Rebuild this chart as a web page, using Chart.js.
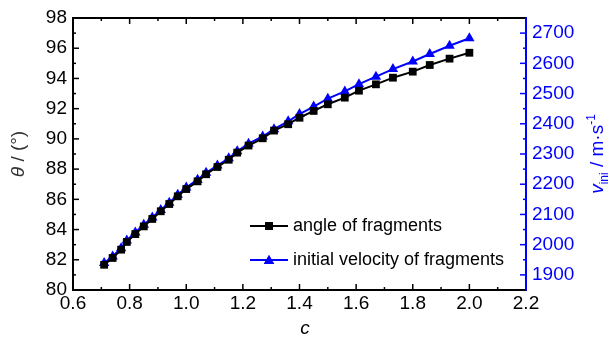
<!DOCTYPE html>
<html>
<head>
<meta charset="utf-8">
<script src="https://cdn.jsdelivr.net/npm/chart.js@4.4.1/dist/chart.umd.min.js"></script>
<style>
html,body{margin:0;padding:0;background:#fff;}
#wrap{width:609px;height:337px;position:relative;}
</style>
</head>
<body>
<div id="wrap"><canvas id="c" width="609" height="337"></canvas></div>
<script>
// ---- data ----
const cValues = [0.71, 0.74, 0.77, 0.79, 0.82, 0.85, 0.88, 0.91, 0.94, 0.97, 1.00, 1.04, 1.07, 1.11, 1.15, 1.18, 1.22, 1.27, 1.31, 1.36, 1.40, 1.45, 1.50, 1.56, 1.61, 1.67, 1.73, 1.80, 1.86, 1.93, 2.00];
const angleValues = [81.67, 82.12, 82.67, 83.18, 83.70, 84.21, 84.70, 85.21, 85.69, 86.20, 86.68, 87.19, 87.66, 88.14, 88.62, 89.09, 89.56, 90.04, 90.55, 90.97, 91.40, 91.85, 92.29, 92.73, 93.19, 93.61, 94.05, 94.45, 94.89, 95.31, 95.70];
const velocityValues = [1939, 1961, 1988, 2014, 2040, 2066, 2090, 2115, 2139, 2165, 2189, 2215, 2238, 2262, 2286, 2309, 2334, 2358, 2382, 2408, 2432, 2457, 2483, 2507, 2531, 2556, 2581, 2606, 2631, 2658, 2683];
const xTicks = [0.6, 0.8, 1.0, 1.2, 1.4, 1.6, 1.8, 2.0, 2.2];
const leftTicks = [80, 82, 84, 86, 88, 90, 92, 94, 96, 98];
const rightTicks = [1900, 2000, 2100, 2200, 2300, 2400, 2500, 2600, 2700];
const seriesLabels = ['angle of fragments', 'initial velocity of fragments'];

const BLUE = '#0000ff';
const FONT = '"Liberation Sans", Arial, sans-serif';
const TICK_FONT = { family: FONT, size: 19 };

function minors(arr) {
  const out = [];
  for (let i = 0; i < arr.length - 1; i++) out.push((arr[i] + arr[i + 1]) / 2);
  return out;
}

const framePlugin = {
  id: 'frame',
  afterDraw(chart) {
    const ctx = chart.ctx;
    const a = chart.chartArea;
    const sx = chart.scales.x, sy = chart.scales.y, sy2 = chart.scales.y2;
    ctx.save();
    ctx.lineCap = 'butt';
    ctx.lineWidth = 1.5;
    ctx.strokeStyle = '#000';
    const tk = (x1, y1, x2, y2) => { ctx.beginPath(); ctx.moveTo(x1, y1); ctx.lineTo(x2, y2); ctx.stroke(); };
    xTicks.forEach(v => { const p = sx.getPixelForValue(v); tk(p, a.bottom, p, a.bottom - 6); tk(p, a.top, p, a.top + 6); });
    minors(xTicks).forEach(v => { const p = sx.getPixelForValue(v); tk(p, a.bottom, p, a.bottom - 3); tk(p, a.top, p, a.top + 3); });
    leftTicks.forEach(v => { const p = sy.getPixelForValue(v); tk(a.left, p, a.left + 6, p); });
    minors(leftTicks).forEach(v => { const p = sy.getPixelForValue(v); tk(a.left, p, a.left + 3, p); });
    ctx.strokeStyle = BLUE;
    rightTicks.forEach(v => { const p = sy2.getPixelForValue(v); tk(a.right, p, a.right - 6, p); });
    minors(rightTicks).forEach(v => { const p = sy2.getPixelForValue(v); tk(a.right, p, a.right - 3, p); });
    // frame
    ctx.lineWidth = 2;
    ctx.strokeStyle = '#000';
    ctx.beginPath();
    ctx.moveTo(a.right, a.top); ctx.lineTo(a.left, a.top); ctx.lineTo(a.left, a.bottom); ctx.lineTo(a.right, a.bottom);
    ctx.stroke();
    ctx.strokeStyle = BLUE;
    ctx.beginPath(); ctx.moveTo(a.right, a.top - 1); ctx.lineTo(a.right, a.bottom + 1); ctx.stroke();

    ctx.textBaseline = 'alphabetic';
    // left title
    ctx.save();
    ctx.translate(24, (a.top + a.bottom) / 2);
    ctx.rotate(-Math.PI / 2);
    ctx.fillStyle = '#333';
    const p1 = 'θ', p2 = ' / (°)';
    ctx.font = 'italic 19px ' + FONT;
    const w1 = ctx.measureText(p1).width;
    ctx.font = '19px ' + FONT;
    const w2 = ctx.measureText(p2).width;
    let x0 = -(w1 + w2) / 2;
    ctx.font = 'italic 19px ' + FONT; ctx.fillText(p1, x0, 0);
    ctx.font = '19px ' + FONT; ctx.fillText(p2, x0 + w1, 0);
    ctx.restore();

    // right title
    ctx.save();
    ctx.translate(603, (a.top + a.bottom) / 2);
    ctx.rotate(-Math.PI / 2);
    ctx.fillStyle = BLUE;
    const parts = [
      { t: 'v', f: 'italic 19px ' + FONT, dy: 0 },
      { t: 'ini', f: '12px ' + FONT, dy: 5 },
      { t: ' / m·s', f: '19px ' + FONT, dy: 0 },
      { t: '-1', f: '12px ' + FONT, dy: -8 }
    ];
    let tw = 0;
    parts.forEach(p => { ctx.font = p.f; p.w = ctx.measureText(p.t).width; tw += p.w; });
    let cx = -tw / 2;
    parts.forEach(p => { ctx.font = p.f; ctx.fillText(p.t, cx, p.dy); cx += p.w; });
    ctx.restore();

    // bottom title
    ctx.fillStyle = '#000';
    ctx.font = 'italic 19px ' + FONT;
    ctx.textAlign = 'center';
    ctx.fillText('c', 305, 334);
    ctx.textAlign = 'left';

    // legend
    const rows = [
      { y: 226, color: '#000', style: 'rect', r: 5.5, label: seriesLabels[0] },
      { y: 260, color: BLUE, style: 'triangle', r: 6, label: seriesLabels[1] }
    ];
    rows.forEach(rw => {
      ctx.strokeStyle = rw.color; ctx.lineWidth = 2;
      tk(250, rw.y, 288, rw.y);
      ctx.fillStyle = rw.color;
      Chart.helpers.drawPoint(ctx, { pointStyle: rw.style, radius: rw.r, borderWidth: 0 }, 269, rw.y + (rw.style === 'triangle' ? 1 : 0));
      ctx.fill();
      ctx.fillStyle = '#000';
      ctx.font = '18px ' + FONT;
      ctx.textBaseline = 'middle';
      ctx.fillText(rw.label, 293, rw.y);
    });
    ctx.restore();
  }
};

new Chart(document.getElementById('c'), {
  type: 'line',
  data: {
    datasets: [
      {
        label: seriesLabels[0],
        data: cValues.map((c, i) => ({ x: c, y: angleValues[i] })),
        yAxisID: 'y',
        borderColor: '#000',
        backgroundColor: '#000',
        borderWidth: 2,
        pointStyle: 'rect',
        pointRadius: 5.5,
        pointBorderWidth: 0,
        tension: 0
      },
      {
        label: seriesLabels[1],
        data: cValues.map((c, i) => ({ x: c, y: velocityValues[i] })),
        yAxisID: 'y2',
        borderColor: BLUE,
        backgroundColor: BLUE,
        borderWidth: 2,
        pointStyle: 'triangle',
        pointRadius: 6,
        pointBorderWidth: 0,
        tension: 0
      }
    ]
  },
  options: {
    responsive: false,
    animation: false,
    devicePixelRatio: 1,
    layout: { padding: { top: 18, left: 0, right: 0, bottom: 0 } },
    plugins: { legend: { display: false }, tooltip: { enabled: false } },
    scales: {
      x: {
        type: 'linear', min: 0.6, max: 2.2,
        afterBuildTicks: s => { s.ticks = xTicks.map(v => ({ value: v })); },
        afterFit: s => { s.height = 47; },
        grid: { display: false, drawTicks: false },
        border: { display: false },
        ticks: { autoSkip: false, maxRotation: 0, padding: 2, color: '#000', font: TICK_FONT, callback: v => Number(v).toFixed(1) }
      },
      y: {
        type: 'linear', position: 'left', min: 80, max: 98,
        afterBuildTicks: s => { s.ticks = leftTicks.map(v => ({ value: v })); },
        afterFit: s => { s.width = 73; },
        grid: { display: false, drawTicks: false },
        border: { display: false },
        ticks: { autoSkip: false, padding: 6, color: '#000', font: TICK_FONT, callback: v => String(v) }
      },
      y2: {
        type: 'linear', position: 'right', min: 1850, max: 2750,
        afterBuildTicks: s => { s.ticks = rightTicks.map(v => ({ value: v })); },
        afterFit: s => { s.width = 83; },
        grid: { display: false, drawTicks: false },
        border: { display: false },
        ticks: { autoSkip: false, padding: 6, color: BLUE, font: TICK_FONT, callback: v => String(v) }
      }
    }
  },
  plugins: [framePlugin]
});
</script>
</body>
</html>
